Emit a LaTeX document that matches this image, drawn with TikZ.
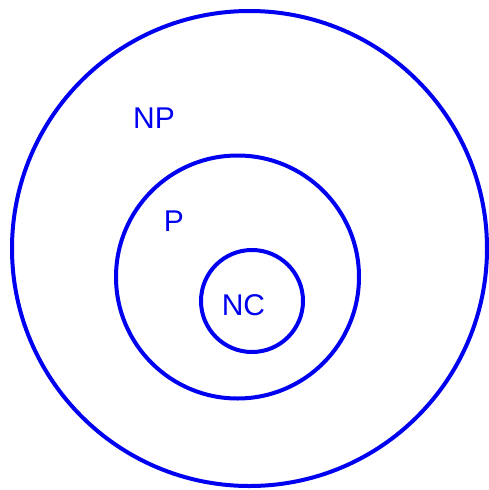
\documentclass[tikz,border=0pt]{standalone}
\usepackage{fontspec}
\setmainfont{Liberation Sans}
\usepackage{tikz}
\usepackage{xcolor}
\usetikzlibrary{positioning}
\definecolor{SetBlue}{HTML}{0000F0}

\begin{document}
\begin{tikzpicture}[x=1pt, y=-1pt]

    \useasboundingbox (0,0) rectangle (489,490);
    \tikzset{ring/.style={draw=SetBlue, line width=4pt},
             setname/.style={text=SetBlue, font=\fontsize{30}{36}\selectfont, inner sep=0pt}}

    % === Outer set (NP) ===
    \draw[ring] (249.5,248.5) circle (237.5);
    \node[setname] (np) at (154,118) {NP};

    % === Middle set (P) ===
    \draw[ring] (237.5,277) circle (121.5);
    \node[setname] (p) at (174,221.5) {P};

    % === Inner set (NC) ===
    \draw[ring] (252,301) circle (51);
    \node[setname] (nc) at (243.5,305.5) {NC};

\end{tikzpicture}
\end{document}
